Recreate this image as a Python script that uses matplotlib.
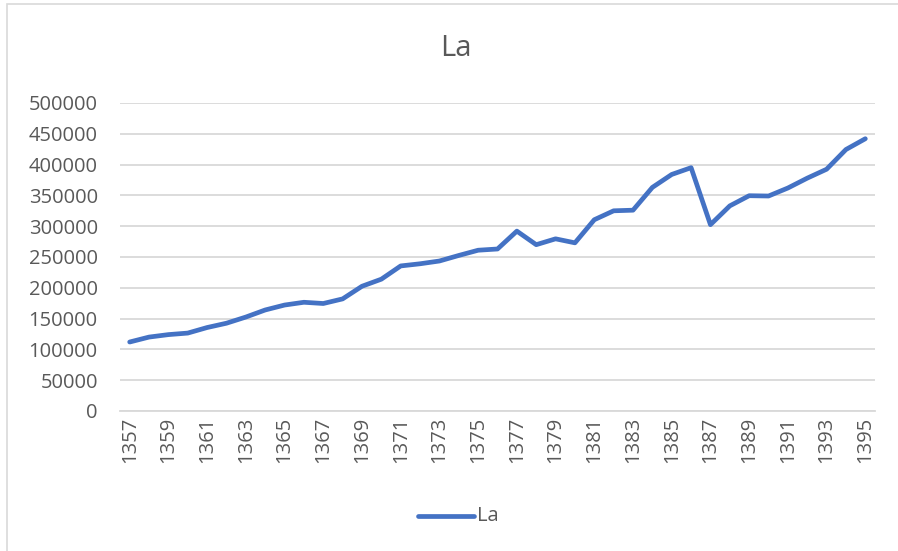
import matplotlib.pyplot as plt
from matplotlib.patches import Rectangle
from matplotlib.lines import Line2D

plt.rcParams['font.family'] = ['Open Sans', 'DejaVu Sans']

years = list(range(1357, 1396))
values = [112000, 120000, 124000, 126500, 135500, 142500, 152500, 164000, 172000, 176500,
          174500, 182000, 202500, 214000, 235500, 239000, 243500, 252500, 261000, 263000,
          292000, 270000, 279500, 273000, 310500, 325000, 326000, 363000, 384000, 395000,
          302500, 333000, 349500, 349000, 362000, 378000, 392500, 424500, 442000]
yticks = list(range(0, 500001, 50000))
xtick_years = years[::2]

W, H = 898, 551
fig = plt.figure(figsize=(W / 100, H / 100), dpi=100)

# chart area border
fig.patches.append(Rectangle((7 / W, -0.05), 1.2, (H - 4) / H + 0.05, transform=fig.transFigure,
                             fill=False, edgecolor='#d9d9d9', linewidth=1.2))

ax = fig.add_axes([120 / W, 1 - 411 / H, (875 - 120) / W, (411 - 103) / H])
ax.plot(years, values, color='#4472C4', linewidth=3.4, solid_capstyle='round', solid_joinstyle='round')

ax.set_xlim(years[0] - 0.5, years[-1] + 0.5)
ax.set_ylim(0, 500000)
ax.set_yticks(yticks)
ax.set_yticklabels([str(v) for v in yticks])
ax.set_xticks(xtick_years)
ax.set_xticklabels([str(y) for y in xtick_years], rotation=90)
ax.grid(axis='y', color='#d9d9d9', linewidth=1.3)
ax.set_axisbelow(True)
for s in ['top', 'right', 'left']:
    ax.spines[s].set_visible(False)
ax.spines['bottom'].set_color('#d9d9d9')
ax.spines['bottom'].set_linewidth(1.3)
ax.tick_params(axis='both', length=0, labelsize=14.5, colors='#595959')
ax.tick_params(axis='y', pad=16)
ax.tick_params(axis='x', pad=4)

fig.text(456 / W, 1 - 48 / H, 'La', ha='center', va='center', fontsize=21, color='#595959')

# legend
fig.lines.append(Line2D([418 / W, 474 / W], [1 - 516 / H, 1 - 516 / H], transform=fig.transFigure,
                        color='#4472C4', linewidth=3.4, solid_capstyle='round'))
fig.text(477 / W, 1 - 516 / H, 'La', ha='left', va='center', fontsize=14.5, color='#595959')

fig.savefig('out.png', dpi=100)
